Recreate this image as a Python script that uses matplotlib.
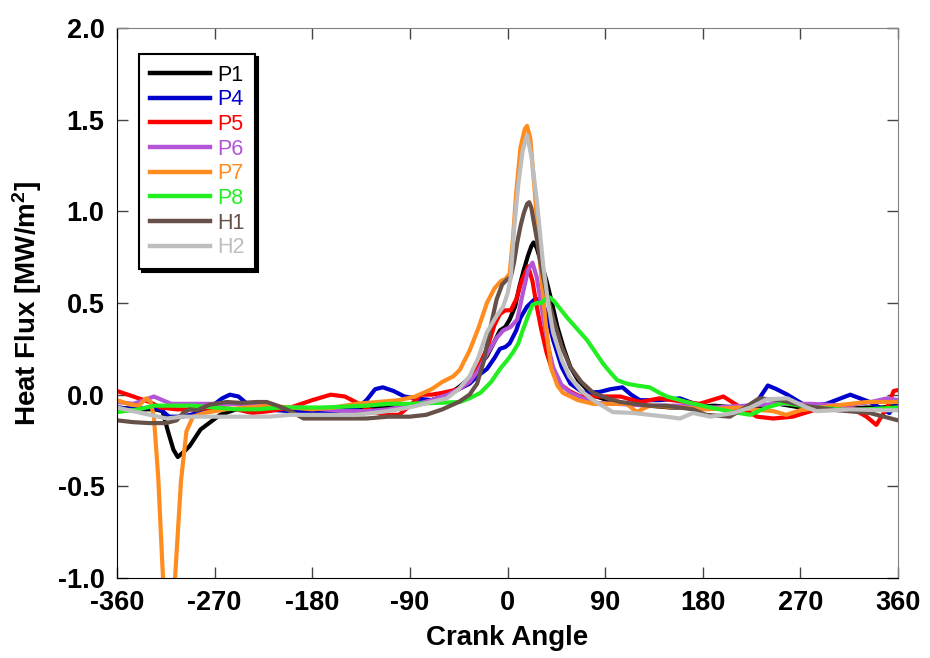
import matplotlib
matplotlib.use("Agg")
import matplotlib.pyplot as plt
import numpy as np
from matplotlib.ticker import FormatStrFormatter

plt.rcParams["font.family"] = ["Liberation Sans", "DejaVu Sans"]
plt.rcParams["font.weight"] = "bold"
plt.rcParams["axes.unicode_minus"] = False
plt.rcParams["mathtext.fontset"] = "custom"
plt.rcParams["mathtext.rm"] = "Liberation Sans:bold"
plt.rcParams["mathtext.default"] = "rm"

# heat flux traces [MW/m^2] vs crank angle [deg]
p1_deg = [-360, -340, -325, -318, -313, -308, -304, -298, -293, -283,
          -274, -265, -250, -230, -200, -170, -140, -120, -100, -85,
          -70, -55, -45, -35, -27, -19, -12, -7, -2, 2,
          7, 11, 15, 19, 22, 24, 27, 30, 36, 41,
          46, 52, 58, 65, 73, 82, 92, 110, 130, 150,
          170, 190, 210, 230, 250, 270, 290, 310, 330, 345, 360]
p1_val = [-0.07, -0.08, -0.08, -0.09, -0.2, -0.3, -0.34, -0.31, -0.28, -0.19,
          -0.15, -0.11, -0.08, -0.07, -0.08, -0.08, -0.07, -0.07, -0.06, -0.05,
          -0.03, 0.0, 0.04, 0.09, 0.15, 0.21, 0.29, 0.35, 0.37, 0.41,
          0.48, 0.59, 0.68, 0.76, 0.81, 0.83, 0.80, 0.74, 0.62, 0.50,
          0.37, 0.25, 0.15, 0.08, 0.03, -0.01, -0.03, -0.05, -0.06, -0.07,
          -0.07, -0.06, -0.07, -0.07, -0.05, -0.07, -0.08, -0.08, -0.07, -0.07, -0.06]

p4_deg = [-360, -345, -330, -320, -312, -300, -285, -272, -263, -256,
          -248, -240, -225, -200, -180, -160, -140, -130, -122, -115,
          -105, -95, -85, -70, -55, -45, -35, -28, -19, -12,
          -7, -2, 2, 8, 12, 18, 25, 29, 33, 37,
          42, 50, 58, 70, 85, 95, 106, 114, 122, 140,
          159, 177, 200, 221, 231, 240, 248, 258, 276, 294,
          316, 334, 352, 360]
p4_val = [-0.07, -0.08, -0.07, -0.08, -0.12, -0.12, -0.1, -0.06, -0.02, 0.0,
          -0.01, -0.05, -0.08, -0.09, -0.09, -0.09, -0.08, -0.03, 0.03, 0.04,
          0.02, -0.01, -0.02, -0.03, 0.0, 0.03, 0.06, 0.10, 0.14, 0.2,
          0.25, 0.26, 0.28, 0.35, 0.42, 0.48, 0.52, 0.52, 0.49, 0.42,
          0.30, 0.15, 0.06, 0.01, 0.015, 0.03, 0.04, 0.0, -0.03, -0.03,
          -0.02, -0.06, -0.08, -0.095, -0.03, 0.05, 0.03, 0.0, -0.065, -0.05,
          0.0, -0.04, -0.1, -0.04]

p5_deg = [-360, -350, -340, -330, -320, -305, -290, -270, -250, -235,
          -220, -200, -180, -163, -150, -140, -128, -115, -100, -90,
          -80, -70, -60, -45, -35, -27, -19, -12, -7, -2,
          3, 8, 13, 19, 23, 27, 31, 36, 42, 48,
          57, 67, 85, 104, 122, 140, 164, 177, 199, 215,
          230, 245, 263, 285, 316, 331, 340, 350, 356, 360]
p5_val = [0.02, 0.0, -0.02, -0.04, -0.07, -0.08, -0.08, -0.07, -0.08, -0.1,
          -0.09, -0.07, -0.03, 0.0, -0.01, -0.04, -0.08, -0.11, -0.11, -0.06,
          0.0, 0.0, 0.01, 0.03, 0.07, 0.15, 0.25, 0.38, 0.44, 0.46,
          0.46, 0.52, 0.62, 0.70, 0.62, 0.48, 0.36, 0.23, 0.12, 0.06,
          0.02, -0.01, -0.01, -0.01, -0.04, -0.02, -0.04, -0.05, -0.01, -0.07,
          -0.12, -0.13, -0.12, -0.08, -0.07, -0.12, -0.165, -0.07, 0.02, 0.025]

p6_deg = [-360, -345, -335, -326, -318, -310, -290, -270, -250, -230,
          -210, -190, -170, -150, -130, -110, -90, -70, -55, -45,
          -35, -27, -19, -10, -4, 3, 9, 14, 19, 23,
          27, 33, 38, 42, 50, 58, 79, 100, 130, 160,
          190, 220, 250, 280, 310, 335, 350, 360]
p6_val = [-0.04, -0.05, -0.03, -0.01, -0.03, -0.05, -0.05, -0.05, -0.05, -0.06,
          -0.07, -0.07, -0.08, -0.09, -0.09, -0.08, -0.06, -0.03, 0.0, 0.03,
          0.07, 0.13, 0.22, 0.31, 0.35, 0.37, 0.41, 0.55, 0.68, 0.72,
          0.64, 0.42, 0.25, 0.15, 0.05, 0.01, -0.045, -0.05, -0.06, -0.06,
          -0.07, -0.06, -0.05, -0.05, -0.06, -0.04, -0.02, -0.03]

p7_deg = [-360, -350, -340, -333, -329, -326, -322, -318, -313, -307,
          -301, -296, -290, -280, -260, -240, -220, -200, -180, -160,
          -140, -120, -100, -85, -70, -60, -50, -44, -35, -27,
          -19, -12, -6, -2, 2, 5, 8, 12, 16, 18,
          21, 25, 30, 35, 40, 46, 51, 65, 79, 100,
          110, 119, 131, 162, 183, 214, 226, 245, 257, 270,
          301, 331, 360]
p7_val = [-0.03, -0.05, -0.06, -0.02, -0.04, -0.12, -0.45, -0.95, -1.5, -1.05,
          -0.47, -0.2, -0.12, -0.1, -0.08, -0.07, -0.06, -0.07, -0.08, -0.07,
          -0.05, -0.04, -0.03, -0.01, 0.03, 0.07, 0.10, 0.135, 0.24, 0.36,
          0.5, 0.58, 0.62, 0.63, 0.66, 0.85, 1.1, 1.35, 1.45, 1.466,
          1.4, 1.12, 0.72, 0.40, 0.15, 0.05, 0.01, -0.03, -0.05, -0.05,
          -0.05, -0.095, -0.06, -0.07, -0.08, -0.07, -0.08, -0.09, -0.11, -0.085,
          -0.06, -0.04, -0.04]

p8_deg = [-360, -340, -326, -310, -290, -270, -250, -230, -210, -190,
          -170, -150, -130, -110, -90, -65, -44, -35, -25, -15,
          -7, 0, 5, 10, 14, 19, 23, 27, 31, 35,
          39, 43, 47, 55, 64, 73, 80, 88, 95, 101,
          110, 119, 131, 140, 147, 165, 187, 208, 224, 239,
          254, 270, 285, 316, 346, 360]
p8_val = [-0.095, -0.08, -0.06, -0.06, -0.06, -0.07, -0.08, -0.08, -0.07, -0.07,
          -0.07, -0.065, -0.06, -0.05, -0.05, -0.045, -0.04, -0.02, 0.01, 0.07,
          0.14, 0.19, 0.23, 0.28, 0.35, 0.43, 0.49, 0.50, 0.50, 0.52,
          0.53, 0.51, 0.48, 0.42, 0.36, 0.30, 0.24, 0.17, 0.12, 0.08,
          0.06, 0.05, 0.04, 0.01, -0.01, -0.04, -0.07, -0.095, -0.11, -0.07,
          -0.045, -0.06, -0.07, -0.085, -0.075, -0.07]

h1_deg = [-360, -345, -330, -315, -305, -299, -293, -286, -275, -259,
          -245, -231, -222, -212, -200, -188, -170, -150, -130, -110,
          -90, -75, -60, -45, -35, -28, -22, -16, -10, -5,
          -1, 3, 6, 9, 12, 15, 18, 20, 22, 24,
          27, 30, 36, 42, 50, 58, 68, 79, 92, 104,
          130, 146, 171, 183, 205, 219, 232, 251, 273, 304,
          334, 360]
h1_val = [-0.14, -0.15, -0.155, -0.155, -0.14, -0.1, -0.08, -0.085, -0.055, -0.04,
          -0.045, -0.04, -0.04, -0.06, -0.09, -0.13, -0.13, -0.13, -0.13, -0.12,
          -0.12, -0.11, -0.08, -0.04, 0.0, 0.06, 0.18, 0.36, 0.52, 0.6,
          0.625, 0.64, 0.72, 0.83, 0.92, 0.99, 1.04, 1.05, 1.02, 0.95,
          0.85, 0.73, 0.55, 0.42, 0.26, 0.15, 0.07, 0.01, -0.02, -0.04,
          -0.06, -0.06, -0.08, -0.11, -0.12, -0.07, -0.02, -0.03, -0.06, -0.085,
          -0.1, -0.14]

h2_deg = [-360, -345, -330, -314, -300, -270, -240, -220, -200, -170,
          -140, -117, -100, -87, -70, -56, -45, -35, -27, -19,
          -10, -4, 0, 3, 6, 10, 14, 18, 22, 27,
          33, 38, 42, 50, 57, 68, 79, 97, 116, 146,
          159, 171, 187, 208, 224, 239, 258, 276, 285, 316,
          346, 360]
h2_val = [-0.07, -0.09, -0.11, -0.13, -0.12, -0.12, -0.12, -0.12, -0.11, -0.11,
          -0.11, -0.095, -0.08, -0.065, -0.04, -0.02, 0.03, 0.1, 0.2, 0.34,
          0.43, 0.48, 0.55, 0.64, 0.9, 1.15, 1.33, 1.416, 1.3, 1.06,
          0.70, 0.48, 0.34, 0.19, 0.10, 0.02, -0.03, -0.095, -0.1, -0.12,
          -0.13, -0.1, -0.12, -0.1, -0.07, -0.025, -0.02, -0.07, -0.09, -0.08,
          -0.085, -0.085]

series = [
    ("P1", p1_deg, p1_val, "#000000"),
    ("P4", p4_deg, p4_val, "#0000CC"),
    ("P5", p5_deg, p5_val, "#FF0000"),
    ("P6", p6_deg, p6_val, "#B455D8"),
    ("P7", p7_deg, p7_val, "#FF8C1E"),
    ("P8", p8_deg, p8_val, "#22EE22"),
    ("H1", h1_deg, h1_val, "#665048"),
    ("H2", h2_deg, h2_val, "#BEBEBE"),
]

fig = plt.figure(figsize=(9.3, 6.58), dpi=100)
ax = fig.add_axes([117 / 930, 80 / 658, 781 / 930, 550 / 658])

for name, x, y, c in series:
    ax.plot(x, y, color=c, lw=3.0, label=name, solid_joinstyle="round")

ax.set_xlim(-360, 360)
ax.set_ylim(-1.0, 2.0)
ax.set_xticks(np.arange(-360, 361, 90))
ax.set_yticks(np.arange(-1.0, 2.01, 0.5))
ax.yaxis.set_major_formatter(FormatStrFormatter("%.1f"))
ax.tick_params(direction="in", length=8, width=1, top=True, right=True,
               labelsize=19.5, pad=9, color="#444444")
for side in ("top", "right"):
    ax.spines[side].set_color("#808080")
for side in ("left", "bottom"):
    ax.spines[side].set_color("black")

ax.set_xlabel("Crank Angle", fontsize=20, fontweight="bold", labelpad=6)
ax.set_ylabel(r"Heat Flux [MW/m$^{2}$]", fontsize=20, fontweight="bold", labelpad=10)

leg = ax.legend(loc="upper left", bbox_to_anchor=(0.028, 0.953), borderaxespad=0,
                fancybox=False, shadow={"color": "black", "alpha": 1.0},
                edgecolor="black", framealpha=1, labelcolor="linecolor",
                prop={"family": "Liberation Sans", "weight": "normal", "size": 15.5},
                handlelength=2.8, handletextpad=0.33, labelspacing=0.17, borderpad=0.5)
leg.get_frame().set_linewidth(1.5)
for line in leg.get_lines():
    line.set_linewidth(3.2)

fig.savefig("out.png", dpi=100)
print("saved out.png")
